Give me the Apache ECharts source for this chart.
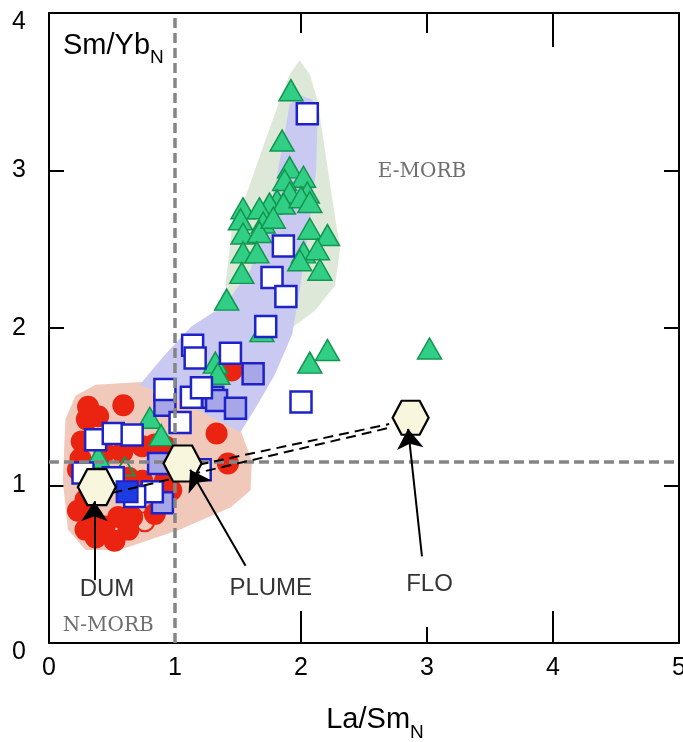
<!DOCTYPE html>
<html>
<head>
<meta charset="utf-8">
<script src="https://cdn.jsdelivr.net/npm/echarts@6/dist/echarts.min.js"></script>
<style>
  html, body { margin: 0; padding: 0; background: #fff; }
  #chart { width: 683px; height: 742px; }
</style>
</head>
<body>
<div id="chart"></div>
<script>
// La/Sm(N) vs Sm/Yb(N) for basalt groups, with mantle end-members DUM, PLUME and FLO

const xTicks = [0, 1, 2, 3, 4, 5];
const yTicks = [0, 1, 2, 3, 4];

// Compositional fields
const fieldEMorb = [[1.99,3.70],[2.07,3.61],[2.13,3.45],[2.19,3.13],[2.25,2.81],[2.31,2.50],[2.27,2.27],
  [2.11,2.11],[1.91,1.99],[1.67,1.96],[1.48,2.11],[1.40,2.27],[1.45,2.62],[1.58,2.88],[1.69,3.13],[1.82,3.42],[1.91,3.61]];
const fieldNMorb = [[0.21,1.57],[0.37,1.64],[0.80,1.66],[1.00,1.59],[1.28,1.48],[1.52,1.35],[1.61,1.16],
  [1.60,0.97],[1.44,0.86],[1.04,0.72],[0.56,0.59],[0.29,0.59],[0.15,0.72],[0.11,1.03],[0.13,1.42]];
const fieldTrend = [[0.72,1.64],[0.92,1.83],[1.13,2.01],[1.40,2.15],[1.60,2.37],[1.71,2.62],[1.79,2.88],
  [1.86,3.19],[1.91,3.42],[1.99,3.48],[2.09,3.45],[2.13,3.29],[2.12,3.00],[2.06,2.62],[1.99,2.24],[1.93,1.96],
  [1.79,1.70],[1.63,1.48],[1.52,1.34],[1.32,1.42],[1.04,1.54]];

// Samples
const redCircles = [[0.31,1.50],[0.59,1.51],[0.30,1.42],[0.39,1.44],[0.26,1.28],[0.25,1.17],[0.74,1.25],
  [0.92,1.25],[0.84,1.26],[0.44,1.21],[0.58,1.21],[0.23,1.10],[0.29,0.91],[0.23,0.84],[0.34,0.80],[0.29,0.72],
  [0.44,0.74],[0.55,0.80],[0.66,0.80],[0.52,0.65],[0.84,0.82],[0.92,1.03],[0.97,0.97],[0.74,1.03],[0.37,0.67],
  [0.63,0.72],[0.63,1.05],[1.33,1.33],[1.42,1.14],[1.45,1.73]];
const openRedCircles = [[0.76,0.77]];
const triangles = [[1.92,3.51],[1.85,3.19],[1.91,3.02],[2.02,2.96],[1.87,2.94],[2.05,2.86],[1.91,2.86],
  [1.81,2.81],[1.75,2.79],[1.86,2.79],[2.00,2.83],[2.07,2.80],[1.54,2.76],[1.67,2.76],[1.52,2.69],[1.70,2.67],
  [1.54,2.60],[1.67,2.61],[1.78,2.70],[2.07,2.63],[2.21,2.59],[1.54,2.48],[1.65,2.48],[2.02,2.48],[2.13,2.50],
  [1.99,2.43],[1.53,2.35],[2.15,2.37],[1.41,2.18],[2.07,1.78],[2.21,1.86],[3.02,1.87],[1.32,1.78],[1.34,1.71],
  [1.69,1.98],[0.80,1.43],[0.89,1.32],[0.39,1.18]];
const openTriangles = [[0.60,1.12]];
const openSquares = [[2.05,3.36],[1.86,2.52],[1.77,2.32],[1.88,2.20],[1.72,2.01],[2.00,1.53],[1.14,1.89],
  [1.16,1.81],[1.44,1.84],[0.92,1.61],[1.13,1.56],[1.21,1.62],[1.04,1.40],[0.37,1.29],[0.51,1.33],[0.66,1.32],
  [0.27,1.08],[0.51,1.05],[0.82,0.96],[0.68,0.93],[1.20,1.10]];
const shadedSquares = [[0.92,1.51],[1.30,1.56],[1.33,1.54],[1.48,1.49],[1.62,1.71],[0.87,1.14],[0.90,0.89]];
const solidSquares = [[0.62,0.96]];

// Mantle end-members
const endMembers = [[0.38,0.99,'DUM'],[1.06,1.14,'PLUME'],[2.87,1.43,'FLO']];
const mixingLines = [[[0.38,0.93],[2.72,1.37]],[[1.06,1.11],[2.70,1.39]]];
const arrows = [[[0.36,0.40],[0.36,0.90]],[[1.56,0.49],[1.12,1.10]],[[2.96,0.55],[2.85,1.36]]];
const refX = 1;
const refY = 1.15;

// Annotations
const endMemberLabels = [[0.46,0.34,'DUM'],[1.76,0.35,'PLUME'],[3.02,0.37,'FLO']];
const fieldLabels = [[2.96,2.99,'E-MORB'],[0.47,0.11,'N-MORB']];

const FONT = "'Liberation Sans', Arial, Helvetica, sans-serif";
const hexagon = 'path://M-1,0 L-0.5,-0.866 L0.5,-0.866 L1,0 L0.5,0.866 L-0.5,0.866 Z';

function field(name, pts, color, z) {
  return {
    type: 'custom', name, z, silent: true, data: pts,
    renderItem(params, api) {
      if (params.dataIndex !== 0) return null;
      return { type: 'polygon', shape: { points: pts.map(p => api.coord(p)) }, style: { fill: color } };
    }
  };
}

const chart = echarts.init(document.getElementById('chart'), null, { renderer: 'canvas' });

const tickStyle = { color: '#000', width: 2 };
const frameLine = { onZero: false, lineStyle: { color: '#000', width: 2 } };
const noLine = { show: false, onZero: false };
const noLabel = { show: false };
const titleRich = (fill) => ({
  a: { fontSize: 29, fontFamily: FONT, [fill]: '#000', lineHeight: 44, verticalAlign: 'middle' },
  s: { fontSize: 19, fontFamily: FONT, [fill]: '#000', lineHeight: 18, verticalAlign: 'bottom' }
});

chart.setOption({
  animation: false,
  backgroundColor: '#fff',
  grid: { left: 49, top: 13, width: 630, height: 630, containLabel: false, outerBoundsMode: 'none' },
  xAxis: [
    {
      type: 'value', min: 0, max: 5, interval: 1, position: 'bottom',
      axisLine: frameLine,
      axisTick: { inside: true, length: 32, customValues: [2, 4], lineStyle: tickStyle },
      axisLabel: { margin: 13, fontSize: 25, color: '#000', fontFamily: FONT,
        customValues: xTicks, formatter: v => String(v) },
      splitLine: { show: false },
      name: '{a|La/Sm}{s|N}', nameLocation: 'middle', nameGap: 55,
      nameTextStyle: { padding: [0, 0, 0, 22], rich: titleRich('color') }
    },
    {
      type: 'value', min: 0, max: 5, position: 'bottom',
      axisLine: noLine,
      axisTick: { inside: true, length: 16, customValues: [3], lineStyle: tickStyle },
      axisLabel: noLabel, splitLine: { show: false }
    },
    {
      type: 'value', min: 0, max: 5, position: 'top',
      axisLine: frameLine,
      axisTick: { inside: true, length: 20, customValues: [2, 3], lineStyle: tickStyle },
      axisLabel: noLabel, splitLine: { show: false }
    },
    {
      type: 'value', min: 0, max: 5, position: 'top',
      axisLine: noLine,
      axisTick: { inside: true, length: 34, customValues: [4], lineStyle: tickStyle },
      axisLabel: noLabel, splitLine: { show: false }
    }
  ],
  yAxis: [
    {
      type: 'value', min: 0, max: 4, interval: 1, position: 'left',
      axisLine: frameLine,
      axisTick: { inside: true, length: 15, customValues: [1, 2, 3], lineStyle: tickStyle },
      axisLabel: {
        margin: 23, color: '#000', fontFamily: FONT, customValues: yTicks,
        formatter: v => v === 0 ? '{lo|0}' : v === 4 ? '{hi|4}' : '{n|' + v + '}',
        rich: {
          n: { fontSize: 25, fontFamily: FONT, color: '#000' },
          lo: { fontSize: 25, fontFamily: FONT, color: '#000', padding: [18, 0, 0, 0] },
          hi: { fontSize: 25, fontFamily: FONT, color: '#000', padding: [18, 0, 0, 0] }
        }
      },
      splitLine: { show: false }
    },
    {
      type: 'value', min: 0, max: 4, interval: 1, position: 'right',
      axisLine: frameLine,
      axisTick: { inside: true, length: 15, customValues: [1, 2, 3], lineStyle: tickStyle },
      axisLabel: noLabel, splitLine: { show: false }
    }
  ],
  graphic: [{
    type: 'text', left: 63, top: 31, z: 100,
    style: { text: '{a|Sm/Yb}{s|N}', rich: titleRich('fill') }
  }],
  series: [
    field('E-MORB field', fieldEMorb, '#dde8d8', 1),
    field('N-MORB field', fieldNMorb, '#f1c9bb', 1),
    field('trend', fieldTrend, '#c9c9f1', 1),
    {
      type: 'scatter', name: 'red', z: 2, data: redCircles, symbol: 'circle', symbolSize: 22,
      itemStyle: { color: '#ea2410', opacity: 1 }
    },
    {
      type: 'scatter', name: 'red open', z: 2, data: openRedCircles, symbol: 'circle', symbolSize: 19,
      itemStyle: { color: 'rgba(0,0,0,0)', borderColor: '#ea2410', borderWidth: 2, opacity: 1 }
    },
    {
      type: 'scatter', name: 'triangles', z: 3, data: triangles, symbol: 'triangle', symbolSize: [24, 21],
      itemStyle: { color: '#31cf86', borderColor: '#12964f', borderWidth: 1.5, opacity: 1 }
    },
    {
      type: 'scatter', name: 'open triangles', z: 3, data: openTriangles, symbol: 'triangle', symbolSize: [20, 18],
      itemStyle: { color: 'rgba(0,0,0,0)', borderColor: '#12964f', borderWidth: 2, opacity: 1 }
    },
    {
      type: 'scatter', name: 'shaded squares', z: 4, data: shadedSquares, symbol: 'rect', symbolSize: 21,
      itemStyle: { color: '#a7a7e8', borderColor: '#1d22c9', borderWidth: 2.5, opacity: 1 }
    },
    {
      type: 'scatter', name: 'open squares', z: 4, data: openSquares, symbol: 'rect', symbolSize: 21,
      itemStyle: { color: '#fff', borderColor: '#1d22c9', borderWidth: 2.5, opacity: 1 }
    },
    {
      type: 'scatter', name: 'solid squares', z: 4, data: solidSquares, symbol: 'rect', symbolSize: 21,
      itemStyle: { color: '#1c3be0', borderColor: '#1d22c9', borderWidth: 2, opacity: 1 }
    },
    {
      type: 'lines', name: 'reference', coordinateSystem: 'cartesian2d', z: 5, silent: true,
      data: [{ coords: [[refX, 0], [refX, 4]] }, { coords: [[0, refY], [5, refY]] }],
      lineStyle: { color: '#858585', width: 3.5, type: [10, 5], opacity: 1 }
    },
    {
      type: 'lines', name: 'mixing', coordinateSystem: 'cartesian2d', z: 6, silent: true,
      data: mixingLines.map(c => ({ coords: c })),
      lineStyle: { color: '#000', width: 2, type: [10, 6], opacity: 1 }
    },
    {
      type: 'scatter', name: 'end-members', z: 7, data: endMembers, symbol: hexagon,
      symbolSize: (v) => v[2] === 'FLO' ? [36, 34] : [38, 36],
      itemStyle: { color: '#f8f6dc', borderColor: '#000', borderWidth: 2.2, opacity: 1 }
    },
    {
      type: 'lines', name: 'pointers', coordinateSystem: 'cartesian2d', z: 8, silent: true,
      data: arrows.map(c => ({ coords: c })),
      symbol: ['none', 'arrow'], symbolSize: [12, 20],
      lineStyle: { color: '#000', width: 2, opacity: 1 }
    },
    {
      type: 'scatter', name: 'end-member labels', z: 9, data: endMemberLabels, symbolSize: 0, silent: true,
      label: { show: true, position: 'inside', formatter: p => p.data[2],
        fontSize: 24, fontFamily: FONT, color: '#000' }
    },
    {
      type: 'scatter', name: 'field labels', z: 9, data: fieldLabels, symbolSize: 0, silent: true,
      label: { show: true, position: 'inside', formatter: p => p.data[2],
        fontSize: 20, fontFamily: "'DejaVu Serif', serif", color: '#4a4a4a' }
    }
  ]
});
</script>
</body>
</html>
